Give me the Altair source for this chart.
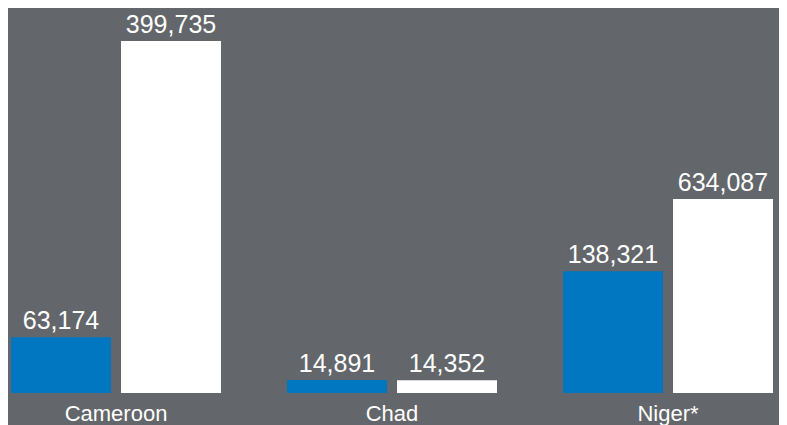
import altair as alt
import pandas as pd

countries = ["Cameroon", "Chad", "Niger*"]
series = ["Series A", "Series B"]
# labelled values
blue_values = [63174, 14891, 138321]
white_values = [399735, 14352, 634087]
# bar lengths as drawn (Niger* second bar is drawn shorter than its label)
blue_bar_values = [63174, 14891, 138321]
white_bar_values = [399735, 14352, 220300]

rows = []
for i, c in enumerate(countries):
    rows.append({"country": c, "series": series[0], "bar": blue_bar_values[i],
                 "label": f"{blue_values[i]:,}"})
    rows.append({"country": c, "series": series[1], "bar": white_bar_values[i],
                 "label": f"{white_values[i]:,}"})
df = pd.DataFrame(rows)

FONT = "Liberation Sans"

x = alt.X("country:N", sort=countries,
          scale=alt.Scale(paddingInner=0.2391, paddingOuter=0, range=[3, 765]),
          axis=alt.Axis(title=None, domain=False, ticks=False, labelAngle=0,
                        labelFontSize=22, labelFont=FONT, labelColor="white",
                        labelPadding=10))
xo = alt.XOffset("series:N", sort=series,
                 scale=alt.Scale(paddingInner=0.0909, paddingOuter=0))
y = alt.Y("bar:Q", scale=alt.Scale(domain=[0, 437200]), axis=None)

bars = alt.Chart(df).mark_bar().encode(
    x=x, xOffset=xo, y=y,
    color=alt.Color("series:N", sort=series,
                    scale=alt.Scale(domain=series, range=["#0077c0", "#ffffff"]),
                    legend=None),
)

labels = alt.Chart(df).mark_text(
    baseline="alphabetic", dy=-8, fontSize=25, font=FONT, color="white"
).encode(x=x, xOffset=xo, y=y, text="label:N")

chart = (bars + labels).properties(
    width=771, height=385,
    autosize=alt.AutoSizeParams(type="none"),
    padding={"left": 0, "top": 0, "right": 0, "bottom": 32},
    background="#63666a",
).configure_view(stroke=None)

chart.save("out.html", embed_options={"renderer": "svg", "actions": False})
